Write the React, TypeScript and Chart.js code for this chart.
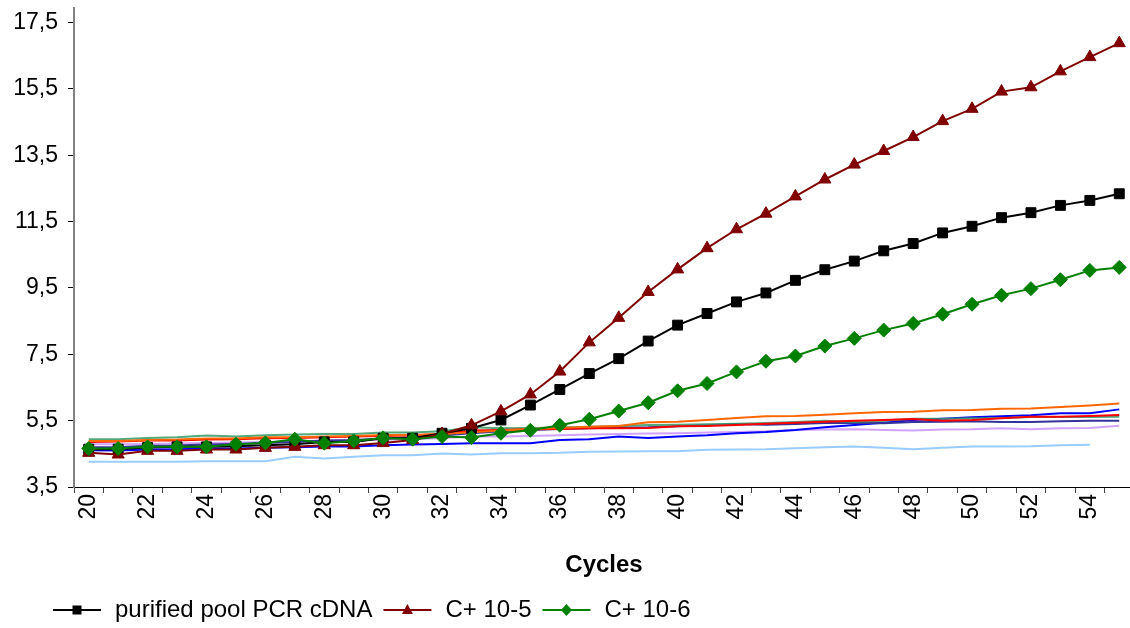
import React, { useEffect, useRef } from 'react';
import { Chart, registerables } from 'chart.js';

Chart.register(...registerables);

const cycles = [20, 21, 22, 23, 24, 25, 26, 27, 28, 29, 30, 31, 32, 33, 34, 35, 36, 37, 38, 39, 40, 41, 42, 43, 44, 45, 46, 47, 48, 49, 50, 51, 52, 53, 54, 55];
const yTicks = [3.5, 5.5, 7.5, 9.5, 11.5, 13.5, 15.5, 17.5];

const purifiedPool = [4.64, 4.64, 4.69, 4.71, 4.71, 4.73, 4.76, 4.79, 4.86, 4.86, 4.97, 4.97, 5.12, 5.27, 5.52, 5.97, 6.44, 6.92, 7.37, 7.90, 8.38, 8.73, 9.08, 9.35, 9.73, 10.05, 10.31, 10.62, 10.84, 11.16, 11.36, 11.62, 11.77, 11.99, 12.14, 12.34];
const cPlus105 = [4.53, 4.48, 4.59, 4.59, 4.63, 4.63, 4.68, 4.71, 4.76, 4.76, 4.83, 4.92, 5.10, 5.36, 5.78, 6.29, 6.98, 7.86, 8.60, 9.38, 10.06, 10.70, 11.27, 11.74, 12.26, 12.77, 13.22, 13.63, 14.05, 14.53, 14.90, 15.42, 15.55, 16.03, 16.46, 16.88];
const cPlus106 = [4.66, 4.66, 4.71, 4.71, 4.71, 4.79, 4.83, 4.94, 4.82, 4.89, 4.98, 4.94, 5.02, 4.99, 5.12, 5.21, 5.36, 5.54, 5.79, 6.04, 6.40, 6.62, 6.97, 7.29, 7.45, 7.75, 7.98, 8.23, 8.43, 8.71, 9.01, 9.28, 9.48, 9.75, 10.03, 10.12];

const sampleOrange = [4.89, 4.89, 4.92, 4.93, 4.96, 4.96, 5.00, 5.00, 5.02, 5.04, 5.07, 5.07, 5.10, 5.15, 5.20, 5.25, 5.28, 5.32, 5.34, 5.45, 5.47, 5.52, 5.58, 5.63, 5.64, 5.68, 5.72, 5.76, 5.77, 5.81, 5.82, 5.86, 5.87, 5.91, 5.96, 6.02];
const sampleRed = [4.86, 4.87, 4.90, 4.90, 4.93, 4.94, 4.97, 4.98, 5.00, 5.02, 5.04, 5.06, 5.10, 5.20, 5.22, 5.24, 5.25, 5.27, 5.27, 5.28, 5.33, 5.34, 5.37, 5.41, 5.44, 5.47, 5.50, 5.52, 5.55, 5.50, 5.52, 5.57, 5.62, 5.62, 5.64, 5.67];
const sampleTeal = [4.94, 4.94, 4.98, 5.00, 5.05, 5.02, 5.06, 5.08, 5.10, 5.10, 5.14, 5.14, 5.18, 5.30, 5.27, 5.28, 5.29, 5.32, 5.34, 5.37, 5.38, 5.39, 5.41, 5.43, 5.46, 5.50, 5.46, 5.50, 5.56, 5.56, 5.57, 5.58, 5.61, 5.61, 5.61, 5.62];
const sampleNavy = [4.70, 4.70, 4.74, 4.75, 4.78, 4.80, 4.83, 4.86, 4.90, 4.92, 4.96, 5.00, 5.05, 5.12, 5.18, 5.22, 5.25, 5.27, 5.29, 5.30, 5.33, 5.36, 5.40, 5.38, 5.40, 5.43, 5.44, 5.42, 5.46, 5.47, 5.48, 5.46, 5.46, 5.48, 5.50, 5.50];
const sampleBlue = [4.61, 4.60, 4.63, 4.64, 4.66, 4.66, 4.68, 4.70, 4.72, 4.72, 4.76, 4.78, 4.80, 4.82, 4.82, 4.82, 4.92, 4.94, 5.02, 4.98, 5.02, 5.06, 5.12, 5.16, 5.22, 5.30, 5.37, 5.44, 5.52, 5.56, 5.60, 5.63, 5.66, 5.72, 5.72, 5.84];
const sampleLavender = [4.79, 4.79, 4.80, 4.81, 4.83, 4.84, 4.86, 4.87, 4.90, 4.90, 4.93, 4.94, 4.98, 5.02, 5.02, 5.04, 5.06, 5.08, 5.10, 5.11, 5.12, 5.14, 5.16, 5.18, 5.22, 5.23, 5.24, 5.22, 5.20, 5.23, 5.24, 5.27, 5.24, 5.27, 5.28, 5.35];
const sampleLightBlue = [4.26, 4.26, 4.26, 4.26, 4.28, 4.28, 4.28, 4.41, 4.36, 4.41, 4.46, 4.46, 4.51, 4.48, 4.52, 4.52, 4.53, 4.56, 4.57, 4.58, 4.58, 4.62, 4.63, 4.64, 4.67, 4.70, 4.72, 4.68, 4.64, 4.68, 4.72, 4.72, 4.73, 4.76, 4.77, null];

const FONT = "'Liberation Sans', Arial, Helvetica, sans-serif";

function drawMarker(ctx: CanvasRenderingContext2D, style: string, x: number, y: number, color: string) {
  ctx.fillStyle = color;
  ctx.beginPath();
  if (style === 'rect') {
    ctx.rect(x - 4.5, y - 4.5, 9, 9);
  } else if (style === 'triangle') {
    ctx.moveTo(x, y - 6);
    ctx.lineTo(x + 5.5, y + 4);
    ctx.lineTo(x - 5.5, y + 4);
    ctx.closePath();
  } else {
    ctx.moveTo(x, y - 6);
    ctx.lineTo(x + 5.5, y);
    ctx.lineTo(x, y + 6);
    ctx.lineTo(x - 5.5, y);
    ctx.closePath();
  }
  ctx.fill();
}

const lineLegend = {
  id: 'lineLegend',
  afterDraw(chart: any) {
    const ctx: CanvasRenderingContext2D = chart.ctx;
    ctx.save();
    ctx.font = `24px ${FONT}`;
    ctx.textBaseline = 'middle';
    ctx.textAlign = 'left';
    let x = 53;
    const y = 610;
    for (const idx of [0, 1, 2]) {
      const ds = chart.data.datasets[idx];
      ctx.strokeStyle = ds.borderColor;
      ctx.lineWidth = 2;
      ctx.beginPath();
      ctx.moveTo(x, y);
      ctx.lineTo(x + 48, y);
      ctx.stroke();
      drawMarker(ctx, ds.pointStyle, x + 24, y, ds.borderColor);
      x += 48 + 14;
      ctx.fillStyle = '#000';
      ctx.fillText(ds.label, x, y);
      x += ctx.measureText(ds.label).width + 11;
    }
    ctx.restore();
  },
};

function bg(label: string, data: (number | null)[], color: string) {
  return {
    label,
    data,
    borderColor: color,
    backgroundColor: color,
    borderWidth: 2,
    pointRadius: 0,
    pointHoverRadius: 0,
    tension: 0,
    fill: false,
    order: 5,
  };
}

export default function App() {
  const ref = useRef<HTMLCanvasElement>(null);

  useEffect(() => {
    const canvas = ref.current;
    if (!canvas) return;
    Chart.defaults.font.family = FONT;
    const chart = new Chart(canvas, {
      type: 'line',
      data: {
        labels: cycles.map(String),
        datasets: [
          {
            label: 'purified pool PCR cDNA',
            data: purifiedPool,
            borderColor: '#000000',
            backgroundColor: '#000000',
            borderWidth: 2,
            pointStyle: 'rect',
            pointRadius: 7,
            pointBorderWidth: 1,
            pointBackgroundColor: '#000000',
            tension: 0,
            order: 3,
          },
          {
            label: 'C+ 10-5',
            data: cPlus105,
            borderColor: '#800000',
            backgroundColor: '#800000',
            borderWidth: 2,
            pointStyle: 'triangle',
            pointRadius: 7,
            pointBorderWidth: 1,
            pointBackgroundColor: '#800000',
            tension: 0,
            order: 2,
          },
          {
            label: 'C+ 10-6',
            data: cPlus106,
            borderColor: '#008000',
            backgroundColor: '#008000',
            borderWidth: 2,
            pointStyle: 'rectRot',
            pointRadius: 7,
            pointBorderWidth: 1,
            pointBackgroundColor: '#008000',
            tension: 0,
            order: 1,
          },
          bg('sample orange', sampleOrange, '#FF6600'),
          bg('sample red', sampleRed, '#FF0000'),
          bg('sample teal', sampleTeal, 'rgba(51,153,102,0.85)'),
          bg('sample navy', sampleNavy, '#333399'),
          bg('sample blue', sampleBlue, '#0000FF'),
          bg('sample lavender', sampleLavender, 'rgba(204,153,255,0.9)'),
          bg('sample light blue', sampleLightBlue, '#99CCFF'),
        ] as any,
      },
      options: {
        responsive: false,
        animation: false,
        devicePixelRatio: 1,
        layout: { padding: { left: 0, right: 0, top: 8, bottom: 48 } },
        plugins: {
          legend: { display: false },
          tooltip: { enabled: false },
        },
        scales: {
          x: {
            type: 'category',
            offset: true,
            grid: { offset: true, drawOnChartArea: false, tickLength: 6, color: '#404040', lineWidth: 1 },
            border: { color: '#000000', width: 1 },
            ticks: {
              autoSkip: false,
              maxRotation: 90,
              minRotation: 90,
              padding: 1,
              color: '#000000',
              font: { size: 23 },
              callback: (_v: any, i: number) => (i % 2 === 0 ? String(cycles[i]) : ''),
            },
            title: {
              display: true,
              text: 'Cycles',
              color: '#000000',
              font: { size: 24, weight: 'bold' },
              padding: 0,
            },
            afterFit: (s: any) => {
              s.height = 93;
              s.paddingLeft = 0;
              s.paddingRight = 0;
            },
          },
          y: {
            min: 3.5,
            max: 17.94,
            afterBuildTicks: (s: any) => {
              s.ticks = yTicks.map((v) => ({ value: v }));
            },
            ticks: {
              color: '#000000',
              font: { size: 23 },
              padding: 10,
              callback: (v: any) => Number(v).toFixed(1).replace('.', ','),
            },
            grid: { drawOnChartArea: false, tickLength: 6, color: '#000000', lineWidth: 1 },
            border: { color: '#808080', width: 2 },
            afterFit: (s: any) => {
              s.width = 74;
              s.paddingTop = 0;
              s.paddingBottom = 0;
            },
          },
        } as any,
      },
      plugins: [lineLegend],
    });
    return () => chart.destroy();
  }, []);

  return (
    <div style={{ position: 'absolute', left: 0, top: 0, width: 1130, height: 628, overflow: 'hidden', background: '#ffffff' }}>
      <canvas ref={ref} width={1142} height={628} style={{ display: 'block', width: 1142, height: 628 }} />
    </div>
  );
}
